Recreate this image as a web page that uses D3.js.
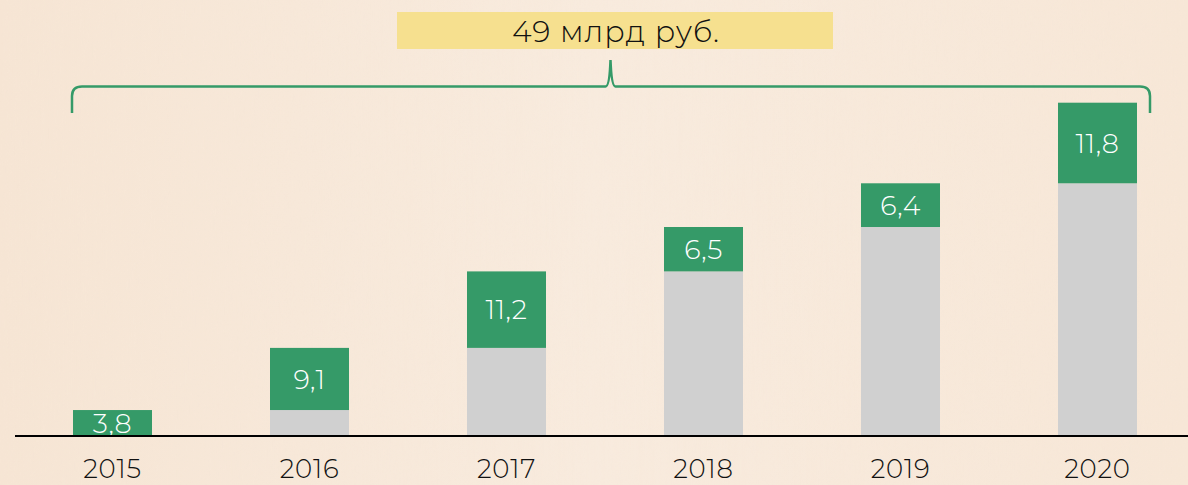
<!DOCTYPE html>
<html>
<head>
<meta charset="utf-8">
<script src="https://cdn.jsdelivr.net/npm/d3@7"></script>
<style>
html,body{margin:0;padding:0;background:#f6e7d8;}
svg{display:block;}
</style>
</head>
<body>
<svg id="chart" width="1188" height="485"></svg>
<script>
const years = ["2015","2016","2017","2018","2019","2020"];
const increments = [3.8, 9.1, 11.2, 6.5, 6.4, 11.8];
const incrementLabels = ["3,8","9,1","11,2","6,5","6,4","11,8"];
const totalLabel = "49 млрд руб.";

const W = 1188, H = 485;
const svg = d3.select("#chart");
const font = "Montserrat, 'Open Sans', 'Noto Sans', sans-serif";

// background with faint wood grain
const defs = svg.append("defs");
const grad = defs.append("linearGradient").attr("id","bg").attr("x1",0).attr("x2",1).attr("y1",0).attr("y2",0);
grad.append("stop").attr("offset","0%").attr("stop-color","#f6e5d4");
grad.append("stop").attr("offset","50%").attr("stop-color","#f8ebde");
grad.append("stop").attr("offset","100%").attr("stop-color","#f7e7d7");
const filt = defs.append("filter").attr("id","grain").attr("x",0).attr("y",0).attr("width","100%").attr("height","100%");
filt.append("feTurbulence").attr("type","fractalNoise").attr("baseFrequency","0.35 0.012").attr("numOctaves",3).attr("seed",4);
filt.append("feColorMatrix").attr("type","matrix")
  .attr("values","0 0 0 0 0.93  0 0 0 0 0.80  0 0 0 0 0.68  0 0 0 0.6 -0.15");
svg.append("rect").attr("width",W).attr("height",H).attr("fill","url(#bg)");
svg.append("rect").attr("width",W).attr("height",H).attr("filter","url(#grain)").attr("opacity",0.6);

const x = d3.scaleBand().domain(years).range([13.9, 1196.1]).paddingInner(118/197).paddingOuter(0.3);
const y = d3.scaleLinear().domain([0, 50]).range([436, 436 - 50*6.83]);

const ends = d3.cumsum(increments);
const data = years.map((yr,i)=>({yr, start: ends[i]-increments[i], end: ends[i], label: incrementLabels[i]}));

// gray base (previous cumulative)
svg.append("g").selectAll("rect").data(data.filter(d=>d.start>0)).join("rect")
  .attr("x", d=>x(d.yr)).attr("width", x.bandwidth())
  .attr("y", d=>y(d.start)).attr("height", d=>y(0)-y(d.start))
  .attr("fill","#d0d0d0");

// green increments
svg.append("g").selectAll("rect").data(data).join("rect")
  .attr("x", d=>x(d.yr)).attr("width", x.bandwidth())
  .attr("y", d=>y(d.end)).attr("height", d=>y(d.start)-y(d.end))
  .attr("fill","#359a68");

svg.append("g").selectAll("text").data(data).join("text")
  .attr("x", d=>x(d.yr)+x.bandwidth()/2)
  .attr("y", d=>(y(d.start)+y(d.end))/2)
  .attr("dy","0.36em")
  .attr("text-anchor","middle")
  .attr("fill","#ffffff")
  .attr("font-family", font)
  .attr("font-weight", 300)
  .attr("font-size", 27)
  .attr("letter-spacing", 0.5)
  .text(d=>d.label);

// axis
const axis = d3.axisBottom(x).tickSize(0).tickPadding(24);
const ag = svg.append("g").attr("transform",`translate(0,${y(0)})`).call(axis);
ag.select(".domain").remove();
ag.selectAll("text").attr("font-family", font).attr("font-weight", 300).attr("font-size", 26).attr("letter-spacing", 0.8).attr("fill","#111");
svg.append("line").attr("x1",15).attr("x2",1188).attr("y1",y(0)).attr("y2",y(0))
  .attr("stroke","#000").attr("stroke-width",2);

// brace
const bl = x(years[0]) - 1, br = x(years[years.length-1]) + x.bandwidth() + 13;
const by = 86.5, mid = 610.5;
svg.append("path")
  .attr("d", `M${bl},113 V96 Q${bl},${by} ${bl+10},${by} H${mid-5} Q${mid-1},${by} ${mid},60 Q${mid+1},${by} ${mid+5},${by} H${br-10} Q${br},${by} ${br},96 V113`)
  .attr("fill","none").attr("stroke","#359a68").attr("stroke-width",2.5);

// total label box
svg.append("rect").attr("x",397).attr("y",12).attr("width",436).attr("height",37).attr("fill","#f6e08f");
svg.append("text").attr("x",616).attr("y",31).attr("dy","0.36em").attr("text-anchor","middle")
  .attr("font-family", font).attr("font-weight", 300).attr("font-size",30).attr("letter-spacing",1).attr("fill","#111").text(totalLabel);
</script>
</body>
</html>
